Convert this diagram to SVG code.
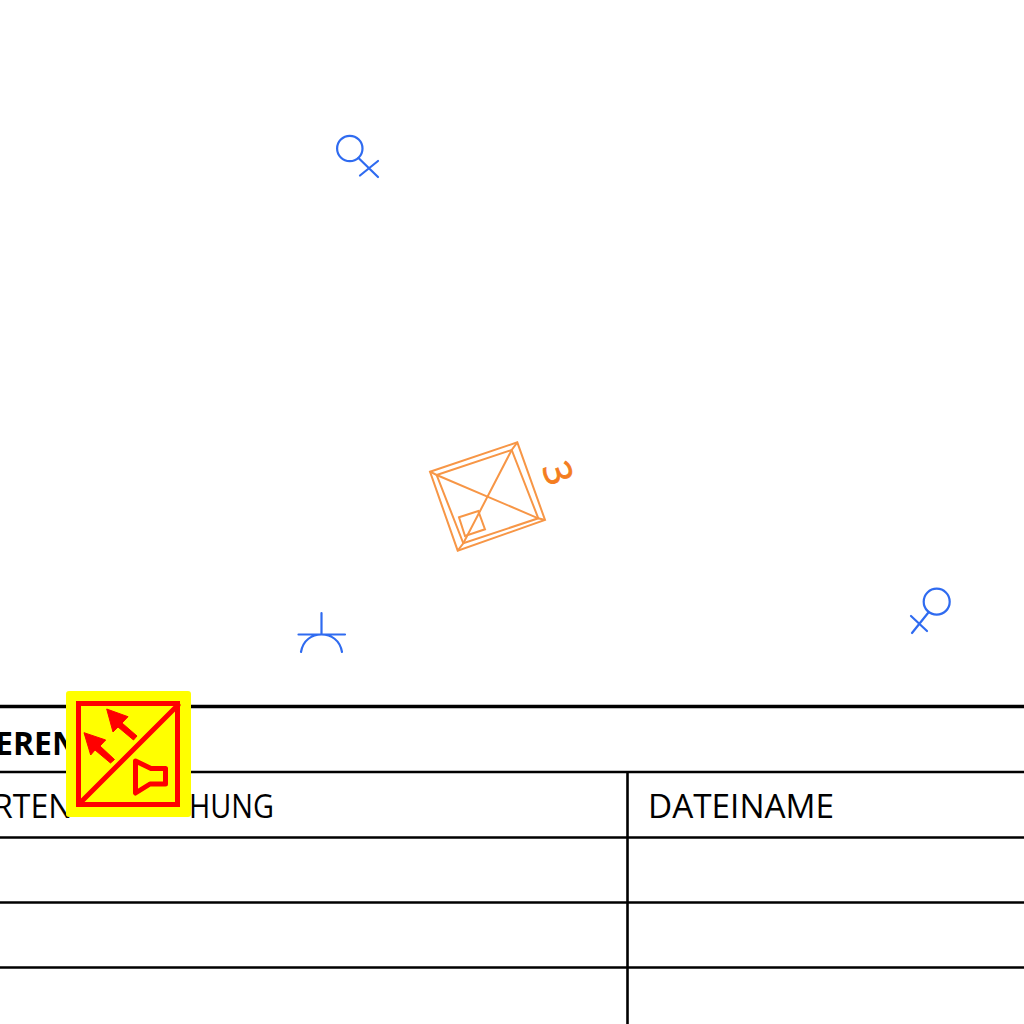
<svg xmlns="http://www.w3.org/2000/svg" width="1024" height="1024" viewBox="0 0 1024 1024">
<style>
.b{fill:none;stroke:#2f6bf0;stroke-width:2.2;stroke-linecap:round}
.o{fill:none;stroke:#f79646;stroke-width:2}
.k{stroke:#000;stroke-width:2.6}
.t{font-family:"Open Sans","Noto Sans",sans-serif;font-size:32px;fill:#000}
.r{fill:none;stroke:#f00;stroke-width:5}
</style>
<rect width="1024" height="1024" fill="#fff"/>
<g id="table">
<line class="k" x1="0" y1="706.500" x2="1024" y2="706.500" style="stroke-width:3.400"/>
<line class="k" x1="0" y1="772" x2="1024" y2="772"/>
<line class="k" x1="0" y1="837.500" x2="1024" y2="837.500"/>
<line class="k" x1="0" y1="902.500" x2="1024" y2="902.500"/>
<line class="k" x1="0" y1="967.500" x2="1024" y2="967.500"/>
<line class="k" x1="627.500" y1="772" x2="627.500" y2="1024"/>
<text class="t" x="-5" y="755" font-weight="700">EREN</text>
<text class="t" x="-7" y="818">RTEN</text>
<text class="t" x="189" y="818" textLength="85" lengthAdjust="spacingAndGlyphs">HUNG</text>
<text class="t" x="648" y="818" textLength="186" lengthAdjust="spacingAndGlyphs">DATEINAME</text>
</g>
<g id="sym-top"><circle class="b" cx="349.800" cy="148.500" r="12.700"/><path class="b" d="M358.500 158L378 177M360 175.500L378 161"/></g>
<g id="sym-right"><circle class="b" cx="936.700" cy="601.700" r="13"/><path class="b" d="M928 613L912 633M911 616L927 631"/></g>
<g id="sym-bottom"><path class="b" d="M321.500 613V634M298.500 634.500H345M301 652C303 640 312 634.500 321.500 634.500C331 634.500 340 640 342 652"/></g>
<g id="pit">
<polygon class="o" points="430,471.700 517.300,442.300 545,520 457.700,550.700"/>
<polygon class="o" points="436.700,475 511.700,450 538.300,518.300 463.300,543.300"/>
<path class="o" d="M430 471.700L436.700 475L538.300 518.300L545 520M517.300 442.300L511.700 450L463.300 543.300L457.700 550.700"/>
<polygon class="o" points="459,517.300 478.300,511 485,529.300 465,536"/>
<text x="0" y="0" transform="translate(541.800 467.300) rotate(71)" font-family="'Open Sans',sans-serif" font-size="38" fill="#f47d20" stroke="#f47d20" stroke-width="0.8">3</text>
</g>
<g id="sign">
<rect x="66" y="691" width="125" height="126" rx="3" fill="#ff0"/>
<rect class="r" x="78.500" y="703.500" width="99" height="101"/>
<path class="r" d="M178 705L80 803" stroke-linecap="round"/>
<path d="M106.700 709L128 716.700L122 723L137 736L133.500 740L118 727L113 732ZM84 732.700L105.700 740L100 746L114.500 759.500L110.500 763L95 750L90.700 755Z" fill="#f00" stroke="#f00" stroke-linejoin="round"/>
<path d="M135.500 761L151 768.500H165.500V784H150L135.500 793Z" fill="none" stroke="#f00" stroke-width="5" stroke-linejoin="round"/>
</g>
</svg>
